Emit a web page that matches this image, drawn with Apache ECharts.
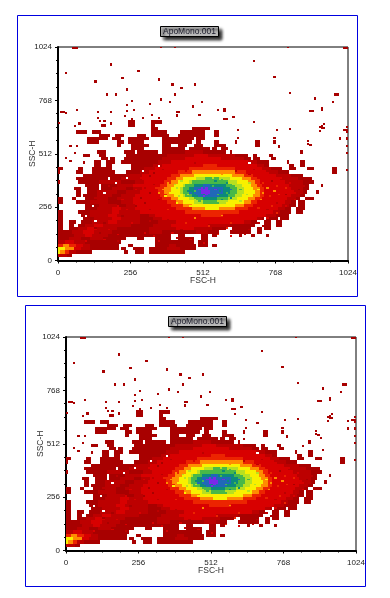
<!DOCTYPE html>
<html><head><meta charset="utf-8">
<style>html,body{margin:0;padding:0;background:#fff}#c{width:390px;height:598px}</style>
<script src="https://cdn.jsdelivr.net/npm/echarts@6/dist/echarts.min.js"></script>
</head><body><div id="c"></div>
<script>
// Density levels, low to high
const levelColors = ['#ffffff','#a80000','#bc0000','#d80000','#ec2400','#ff8c00','#f8f000','#b8e020','#48b848','#0c8a7c','#2068b8','#7a28e8'];
const plotTitle = 'ApoMono.001';
const xAxisName = 'FSC-H';
const yAxisName = 'SSC-H';
const channelMax = 1024;
const tickStep = 256;
const colChannels = 8;    // one column of a density row
const rowChannels = 16;   // one density row
const cellHeight = 10;    // height of an isolated event cell
const speckleHeight = 8;  // height of a texture cell

// Each row, from the bottom of the plot: [startColumn, level, startColumn, level, ..., endColumn, 0]
const densityRows = [
 [0,0,1,0],
 [0,2,4,1,6,0],
 [0,6,1,5,3,4,5,2,8,1,15,0,29,1,31,0,34,1,38,0,40,1,56,0],
 [0,6,3,5,7,3,10,2,14,1,27,0,28,1,30,0,33,1,38,0,40,1,48,2,54,1,61,0],
 [0,4,2,5,5,4,8,3,11,2,14,1,27,0,31,1,33,0,43,1,49,2,52,1,61,0,62,1,66,0,68,1,70,0],
 [0,2,3,3,7,2,12,1,28,0,43,1,60,0,62,1,66,0],
 [0,1,5,2,10,1,14,2,20,1,30,0,35,1,38,0,43,1,50,0,53,1,60,0,63,1,66,0],
 [0,1,7,2,12,3,15,2,22,1,50,0,53,1,56,0,63,1,66,0,68,1,70,0,80,1,81,0,85,1,87,0,92,1,93,0],
 [0,1,6,2,11,3,16,2,24,1,40,2,46,1,61,2,66,1,71,0,76,1,85,0,88,1,90,0],
 [0,1,2,0,5,1,9,2,13,3,17,2,26,1,40,2,52,3,60,2,68,1,74,0,77,1,85,0,88,1,90,0,91,1,94,0],
 [0,1,2,0,5,1,7,0,9,1,12,2,16,3,20,2,32,1,42,2,50,3,66,2,76,1,87,0,91,1,94,0,96,1,99,0],
 [0,1,2,0,5,1,8,0,10,1,15,2,22,3,26,2,36,1,44,2,52,3,82,2,85,1,88,0,91,1,94,0,96,1,99,0],
 [0,1,2,0,11,1,16,2,24,3,28,2,36,1,42,2,46,3,88,2,90,1,91,0,92,1,97,0,98,1,102,0],
 [0,1,2,0,10,1,14,2,22,3,26,2,36,1,40,2,43,3,63,4,73,3,92,2,96,1,102,0],
 [0,1,2,0,9,1,14,2,24,3,27,2,36,3,56,4,80,3,95,2,98,1,103,0,105,1,108,0],
 [0,0,12,1,17,2,24,3,28,2,34,3,52,4,59,5,65,6,71,5,78,4,84,3,97,2,100,1,103,0,105,1,109,0],
 [0,0,12,1,18,2,26,1,30,2,34,3,50,4,55,5,58,6,78,5,82,4,86,3,99,2,102,1,105,0,106,1,109,0],
 [0,1,2,0,8,1,14,2,22,1,28,2,33,3,48,4,52,5,55,6,60,7,64,8,70,7,74,6,82,5,85,4,88,3,100,2,103,1,105,0,106,1,109,0],
 [0,1,2,0,6,1,8,0,12,1,16,2,22,1,26,2,33,3,46,4,50,5,53,6,58,7,60,8,64,9,70,8,75,7,79,6,84,5,87,4,90,3,101,2,105,1,107,0,109,1,113,0],
 [0,0,8,1,10,0,11,1,17,2,24,1,28,2,34,3,45,4,48,5,51,6,55,7,56,8,59,9,62,10,64,11,66,10,71,9,75,8,78,7,81,6,86,5,89,4,91,3,103,2,107,1,109,0],
 [0,0,8,1,10,0,13,1,17,2,26,1,30,2,36,3,44,4,47,5,50,6,54,7,55,8,58,9,60,10,63,11,67,10,73,9,76,8,79,7,82,6,87,5,89,4,91,3,104,2,108,1,110,0,114,1,115,0],
 [0,0,7,1,10,0,13,1,18,0,19,1,24,2,30,1,33,2,37,3,44,4,47,5,50,6,54,7,55,8,58,9,60,10,63,11,66,10,73,9,76,8,79,7,82,6,86,5,89,4,91,3,103,2,108,1,111,0],
 [0,0,12,1,18,0,19,1,26,2,33,3,45,4,48,5,51,6,55,7,56,8,60,9,64,10,67,9,74,8,78,7,81,6,85,5,88,4,90,3,102,2,108,1,111,0,116,1,117,0],
 [0,1,1,0,9,1,18,2,28,1,34,2,38,3,47,4,50,5,53,6,58,7,59,8,75,7,79,6,84,5,87,4,89,3,100,2,108,1,113,0],
 [0,0,8,1,22,0,23,1,28,2,36,3,48,4,52,5,55,6,61,7,65,8,71,7,76,6,81,5,85,4,88,3,98,2,106,1,112,0],
 [0,0,11,1,30,2,37,3,50,4,54,5,60,6,77,5,82,4,86,3,96,2,103,1,108,0],
 [0,1,1,0,8,1,11,0,15,1,25,0,30,1,36,2,40,3,53,4,59,5,78,4,83,3,92,2,97,1,102,0,121,1,123,0],
 [0,1,2,0,9,1,11,0,15,1,24,0,32,1,38,2,43,3,58,4,78,3,90,2,94,1,99,0,102,1,105,0,110,1,113,0,121,1,123,0],
 [0,0,16,1,19,0,21,1,24,0,32,1,42,2,46,3,64,4,70,3,88,2,91,1,93,0,102,1,104,0,107,1,109,0],
 [0,0,16,1,19,0,21,1,25,0,28,1,44,2,50,3,84,2,88,1,93,0,101,1,102,0,107,1,109,0],
 [0,0,19,1,22,0,23,1,25,0,29,1,46,2,56,3,72,2,82,1,85,0,86,1,89,0,94,1,96,0],
 [0,0,11,1,14,0,18,1,21,0,30,1,48,2,60,3,66,2,78,1,84,0,86,1,88,0,93,1,95,0],
 [0,0,17,1,21,0,29,1,34,0,35,1,44,0,46,1,56,2,64,1,74,0,76,1,77,0,107,1,108,0],
 [0,0,32,1,38,0,46,1,56,0,58,1,67,0,68,1,70,0,72,1,75,0],
 [0,0,26,1,28,0,32,1,40,0,46,1,50,0,53,1,57,0,60,1,64,0,69,1,74,0,87,1,89,0],
 [0,0,13,1,18,0,26,1,29,0,31,1,38,0,46,1,59,0,61,1,63,0,69,1,71,0,78,1,79,0,87,1,89,0,95,1,96,0],
 [0,0,13,1,22,0,24,1,28,0,31,1,40,0,46,1,60,0,61,1,65,0],
 [0,0,18,1,23,0,25,1,29,0,35,1,39,0,41,1,49,0,53,1,65,0,69,1,71,0],
 [0,0,8,1,13,0,15,1,19,0,41,1,48,0,54,1,65,0,69,1,71,0],
 [0,0,41,1,44,0,59,1,67,0],
 [0,0,19,1,21,0,31,1,34,0,41,1,43,0],
 [0,0,31,1,34,0,41,1,46,0]
];

// Finer texture inside the cloud: [column, channel on the y axis, level]
const speckleCells = [
 // yellow / orange rim, left
 [52,272,6],[50,288,5],[53,304,7],[49,320,6],[52,344,7],[51,360,7],[54,376,7],[56,392,6],[58,264,5],[47,304,6],[46,336,5],[48,368,5],[53,384,5],[44,320,5],[43,344,4],[46,288,4],[50,264,4],[52,400,4],[56,408,5],
 // yellow / orange rim, right
 [84,296,5],[86,320,6],[88,336,6],[87,352,5],[84,368,7],[82,384,5],[78,264,5],[80,280,7],[83,312,7],[90,320,5],[92,344,5],[89,288,5],[85,272,4],[76,400,6],[72,408,5],[90,368,4],[93,304,4],[88,384,4],[95,328,5],[97,312,4],[96,352,4],
 // green zone
 [57,312,7],[55,336,8],[60,288,7],[62,280,8],[70,272,8],[74,280,7],[78,304,7],[80,336,8],[77,360,7],[56,352,8],[58,368,7],[62,384,7],[68,392,7],[72,384,8],[66,376,8],[74,368,9],[60,360,9],[79,320,7],[57,328,9],[76,296,9],[64,288,9],[72,288,9],[69,376,9],[63,368,8],
 // blue / teal centre
 [60,328,8],[62,352,9],[68,352,8],[72,344,10],[70,312,8],[65,304,10],[74,320,8],[61,312,10],[64,344,10],[76,336,10],[58,320,10],[67,296,9],[71,328,9],[66,320,11],[62,336,11],[69,336,11],[64,312,9],[74,336,9],
 // red body, left half
 [14,112,3],[18,128,1],[22,144,3],[26,120,3],[30,136,1],[34,152,1],[38,128,3],[42,112,3],[20,176,1],[24,192,3],[28,208,1],[32,176,3],[36,200,1],[40,184,2],[44,160,2],[46,216,3],[30,240,3],[34,256,1],[38,272,1],[26,256,3],[22,224,2],[18,240,2],[40,240,2],[42,264,3],[36,296,1],[44,288,2],[40,320,1],[32,320,2],[28,288,3],[24,304,1],[20,272,2],[16,288,1],[38,344,2],[34,336,3],[30,360,2],[42,360,2],[26,336,2],[22,352,2],[36,384,2],[44,384,3],[40,400,1],[48,240,4],[48,192,2],[50,128,3],[54,144,2],[58,96,3],[64,80,3],[70,120,4],[76,112,3],[62,128,2],[56,176,4],[66,160,4],[74,152,4],[60,200,5],[72,212,5],[44,88,3],[52,104,2],[48,72,1],[36,100,1],[12,88,3],[10,128,2],[16,152,1],[8,104,2],[26,88,2],[20,96,3],
 // red body, right half
 [84,144,2],[88,176,2],[92,200,3],[96,224,4],[100,256,3],[104,288,3],[100,312,1],[106,336,1],[102,368,3],[98,392,3],[92,416,3],[86,432,2],[78,448,3],[70,456,3],[60,464,2],[52,448,3],[46,432,2],[42,416,1],[96,272,2],[92,240,2],[104,320,3],[108,352,2],[100,344,4],[94,376,1],[84,408,2],[78,424,2],[66,440,4],[56,424,3],[90,160,1],[82,120,2],[94,256,4],[88,248,4],[76,176,4],
 // soft gaps and edges of the cloud
 [16,184,0],[12,208,0],[20,320,0],[15,256,0],[25,368,0],[30,392,0],[44,448,0],[37,424,0],[84,464,0],[80,160,1]
];

// Isolated events shared by both plots: [column, channel on the y axis]
const outlierCells = [
 [23,940],[3,900],[35,908],[16,863],[16,855],[28,876],[44,868],[50,844],[54,828],[30,820],[21,796],[25,796],[51,796],
 [32,764],[45,772],[49,762],[40,752],[30,745],[59,740],[8,724],[17,714],[23,714],[30,716],[33,720],[17,682],[29,692],
 [44,682],[41,698],[37,682],[1,712],[2,712],[3,708],[52,712],[53,712],[52,700],[52,692],[31,670],[32,670],[33,660],[32,680],
 [0,660],[9,660],[7,645],[18,668],[20,668],[23,657],[86,955],[95,882],[60,844],[102,804],[122,796],[123,796],[113,777],
 [121,762],[63,762],[59,738],[70,722],[73,725],[73,715],[111,717],[112,717],[116,732],[116,722],[62,698],[73,680],[74,678],
 [77,690],[86,666],[117,656],[116,645],[116,636],[115,639],[102,632],[96,626],[127,628],[126,628],[127,640],[127,616],[79,626],
 [78,570],[124,584],[127,584],[110,560],[97,546],[127,547],[87,552],[88,552],[127,587],[127,515],[127,435],[124,587],[115,620],
 [117,637],[79,587],[95,587],[97,547],[110,575],[111,555],[5,547],[8,547],[7,515],[3,490],[5,479],[11,470],[7,643],[9,656],
 [6,1021],[7,1021],[8,1021],[45,1023],[51,1023],[101,1023],[126,1021],[127,1021]
];
// Events seen only in the lower plot
const lowerPlotExtras = [[113,480],[112,540],[104,500],[74,655],[84,610],[124,620],[78,535]];

const plots = [
 {left:58, top:47, frame:[17.5,15.5,340,281], titleLeft:160, titleTop:26, extras:[]},
 {left:66, top:337, frame:[25.5,305.5,340,281], titleLeft:168, titleTop:316, extras:lowerPlotExtras}
];
const plotW = 290, plotH = 213.5;

function buildCells(extras){
  const out = [];
  densityRows.forEach((row, r) => {
    for (let i = 0; i + 2 < row.length; i += 2) {
      if (row[i+1] > 0) out.push([row[i]*colChannels, row[i+2]*colChannels, r*rowChannels, (r+1)*rowChannels, row[i+1]]);
    }
  });
  speckleCells.forEach(c => {
    out.push([c[0]*colChannels, (c[0]+1)*colChannels, c[1], c[1]+speckleHeight, c[2]]);
  });
  outlierCells.concat(extras).forEach(c => {
    out.push([c[0]*colChannels, (c[0]+1)*colChannels, c[1]-cellHeight/2, c[1]+cellHeight/2, 1]);
  });
  return out;
}
function renderCell(params, api){
  const a = api.coord([api.value(0), api.value(3)]);
  const b = api.coord([api.value(1), api.value(2)]);
  const x = Math.round(a[0]), y = Math.round(a[1]);
  return {type:'rect', shape:{x:x, y:y, width:Math.max(1,Math.round(b[0])-x), height:Math.max(1,Math.round(b[1])-y)},
          style:{fill:levelColors[api.value(4)], stroke:null}};
}
const font = 'Liberation Sans';
const plainLabel = v => String(v);
const option = {
  animation:false, backgroundColor:'#fff',
  title: plots.map(p => ({text:plotTitle, left:p.titleLeft, top:p.titleTop, padding:[1,3,1,3],
    backgroundColor:'#b9b9b9', borderColor:'#000', borderWidth:1, shadowColor:'rgba(0,0,0,0.9)', shadowBlur:3, shadowOffsetX:3, shadowOffsetY:3,
    textStyle:{fontFamily:font, fontSize:8.5, fontWeight:'normal', color:'#1a1a2a', lineHeight:9}})),
  grid: plots.map(p => ({left:p.left, top:p.top, width:plotW, height:plotH, show:true, borderColor:'#000', borderWidth:1, backgroundColor:'#fff'})),
  xAxis: plots.map((p,i) => ({type:'value', gridIndex:i, min:0, max:channelMax, interval:tickStep,
    name:xAxisName, nameLocation:'middle', nameGap:16, nameMoveOverlap:false, nameTextStyle:{fontFamily:font, fontSize:8.5, color:'#333'},
    axisLine:{show:true, onZero:false, lineStyle:{color:'#000', width:2}},
    axisTick:{show:true, length:3, lineStyle:{color:'#000', width:1}},
    minorTick:{show:true, splitNumber:4, length:2, lineStyle:{color:'#000', width:1}},
    splitLine:{show:false}, minorSplitLine:{show:false},
    axisLabel:{fontFamily:font, fontSize:8, color:'#222', margin:8, hideOverlap:false, showMinLabel:true, showMaxLabel:true, formatter:plainLabel}})),
  yAxis: plots.map((p,i) => ({type:'value', gridIndex:i, min:0, max:channelMax, interval:tickStep,
    name:yAxisName, nameLocation:'middle', nameGap:21, nameMoveOverlap:false, nameRotate:90, nameTextStyle:{fontFamily:font, fontSize:8.5, color:'#333'},
    axisLine:{show:true, onZero:false, lineStyle:{color:'#000', width:2}},
    axisTick:{show:true, length:3, lineStyle:{color:'#000', width:1}},
    minorTick:{show:true, splitNumber:4, length:2, lineStyle:{color:'#000', width:1}},
    splitLine:{show:false}, minorSplitLine:{show:false},
    axisLabel:{fontFamily:font, fontSize:8, color:'#222', margin:6, showMinLabel:true, showMaxLabel:true, formatter:plainLabel}})),
  series: plots.map((p,i) => ({type:'custom', xAxisIndex:i, yAxisIndex:i, clip:true, silent:true,
    renderItem:renderCell, encode:{x:[0,1], y:[2,3]}, data:buildCells(p.extras), z:1})),
  graphic: plots.map(p => ({type:'rect', silent:true, z:-1,
    shape:{x:p.frame[0], y:p.frame[1], width:p.frame[2], height:p.frame[3]},
    style:{fill:'none', stroke:'#0000e0', lineWidth:1}}))
};
echarts.init(document.getElementById('c'), null, {renderer:'canvas'}).setOption(option);
</script></body></html>
